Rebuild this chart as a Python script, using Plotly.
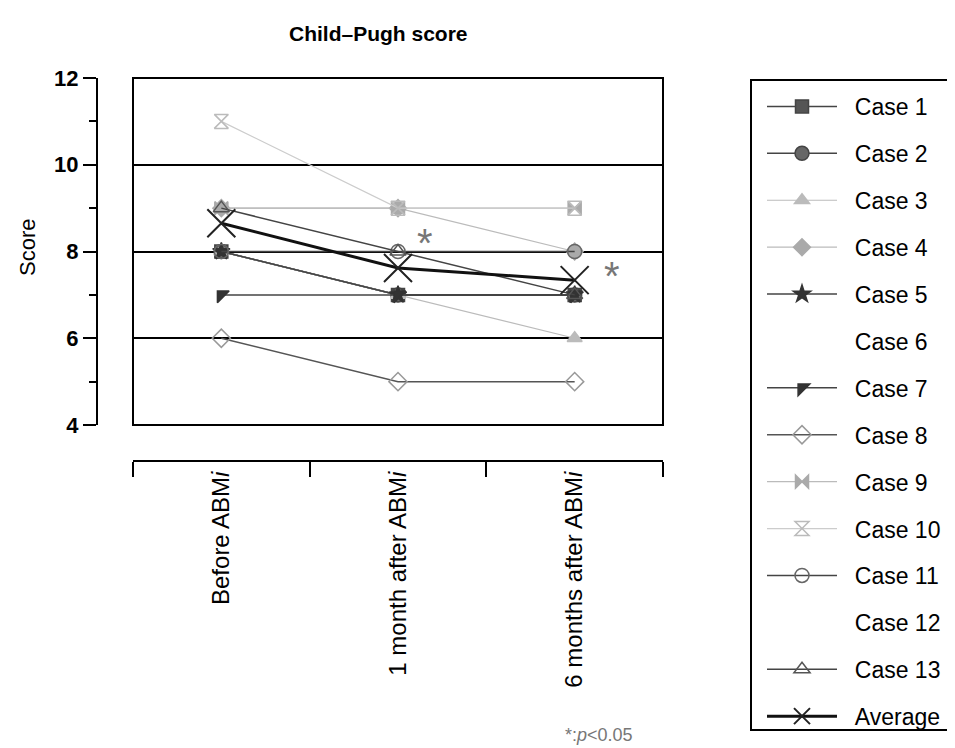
import plotly.graph_objects as go

# ---- data ----
categories = ["Before ABM<i>i</i>", "1 month after ABM<i>i</i>", "6 months after ABM<i>i</i>"]
case_names = ["Case 1", "Case 2", "Case 3", "Case 4", "Case 5", "Case 6", "Case 7",
              "Case 8", "Case 9", "Case 10", "Case 11", "Case 12", "Case 13"]
case1 = [8, 7, 7]
case2 = [8, 7, 7]
case3 = [8, 7, 6]
case4 = [9, 9, 8]
case5 = [8, 7, 7]
case6 = [8, 7, 7]
case7 = [7, 7, 7]
case8 = [6, 5, 5]
case9 = [9, 9, 9]
case10 = [11, 9, 9]
case11 = [8, 8, 8]
case12 = [8, 8, 7]
case13 = [9, 8, 7]
average = [8.65, 7.62, 7.34]
y_ticks = [4, 6, 8, 10, 12]
sig_marks_x = [1.15, 2.21]
sig_marks_y = [8.45, 7.7]

case_values = [case1, case2, case3, case4, case5, case6, case7,
               case8, case9, case10, case11, case12, case13]

# ---- styles ----
styles = [
    dict(symbol="square", mcolor="#555555", mline="#444444", lcolor="#444444", lw=1.5, size=13),
    dict(symbol="circle", mcolor="#666666", mline="#444444", lcolor="#444444", lw=1.5, size=14),
    dict(symbol="triangle-up", mcolor="#bbbbbb", mline="#bbbbbb", lcolor="#bbbbbb", lw=1.2, size=13),
    dict(symbol="diamond", mcolor="#aaaaaa", mline="#aaaaaa", lcolor="#bbbbbb", lw=1.2, size=13),
    dict(symbol="star", mcolor="#333333", mline="#333333", lcolor="#444444", lw=1.5, size=13),
    dict(symbol="circle", mcolor="rgba(0,0,0,0)", mline="rgba(0,0,0,0)", lcolor="rgba(0,0,0,0)", lw=1, size=10),
    dict(symbol="triangle-nw", mcolor="#333333", mline="#333333", lcolor="#444444", lw=1.5, size=13),
    dict(symbol="diamond-open", mcolor="#999999", mline="#999999", lcolor="#555555", lw=1.5, size=14),
    dict(symbol="bowtie", mcolor="#aaaaaa", mline="#aaaaaa", lcolor="#bbbbbb", lw=1.2, size=13),
    dict(symbol="hourglass-open", mcolor="#bbbbbb", mline="#bbbbbb", lcolor="#cccccc", lw=1.2, size=14),
    dict(symbol="circle-open", mcolor="#666666", mline="#666666", lcolor="#444444", lw=1.5, size=14),
    dict(symbol="circle", mcolor="rgba(0,0,0,0)", mline="rgba(0,0,0,0)", lcolor="rgba(0,0,0,0)", lw=1, size=10),
    dict(symbol="triangle-up-open", mcolor="#555555", mline="#555555", lcolor="#444444", lw=1.5, size=14),
]

W, H = 955, 748
def px(x):
    return x / W
def py(y):
    return 1 - y / H

PAD = "\u00a0\u00a0"
fig = go.Figure()
for i, (name, vals) in enumerate(zip(case_names, case_values)):
    s = styles[i]
    fig.add_trace(go.Scatter(
        x=categories, y=vals, name=PAD + name, mode="lines+markers",
        legendgroup=name,
        line=dict(color=s["lcolor"], width=s["lw"]),
        marker=dict(symbol=s["symbol"], size=s["size"], color=s["mcolor"],
                    line=dict(color=s["mline"], width=1.5)),
    ))
fig.add_trace(go.Scatter(
    x=categories, y=average, name=PAD + "Average", mode="lines+markers",
    legendgroup="Average",
    line=dict(color="#111111", width=3),
    marker=dict(symbol="x-thin-open", size=28, color="#222222",
                line=dict(color="#222222", width=2)),
))

FONT = "Liberation Sans, Arial, sans-serif"

annotations = [
    dict(text="<b>Child\u2013Pugh score</b>", x=px(279), y=py(25), xref="paper", yref="paper",
         xanchor="left", yanchor="middle",
         showarrow=False, font=dict(size=21, color="black", family=FONT)),
    dict(text="Score", x=px(20), y=py(240), xref="paper", yref="paper", textangle=-90,
         xanchor="center", yanchor="middle",
         showarrow=False, font=dict(size=22, color="black", family=FONT)),
    dict(text="*:<i>p</i>&lt;0.05", x=px(555), y=py(727), xref="paper", yref="paper",
         xanchor="left", yanchor="middle",
         showarrow=False, font=dict(size=18, color="#777777", family=FONT)),
]
for sx, sy in zip(sig_marks_x, sig_marks_y):
    annotations.append(dict(text="*", x=sx, y=sy, xref="x", yref="y", showarrow=False,
                            xanchor="center", yanchor="middle",
                            font=dict(size=40, color="#777777", family=FONT), yshift=-11))

fig.update_layout(
    width=W, height=H,
    margin=dict(l=0, r=0, t=0, b=0),
    paper_bgcolor="white", plot_bgcolor="white",
    font=dict(family=FONT, color="black", size=22),
    showlegend=True,
    legend=dict(x=px(754), y=py(77), xanchor="left", yanchor="top",
                borderwidth=0, bgcolor="rgba(0,0,0,0)",
                font=dict(size=23, color="black", family=FONT),
                tracegroupgap=14, itemwidth=70, traceorder="grouped"),
    xaxis=dict(
        domain=[px(125), px(655)], anchor="free", position=py(453),
        type="category", range=[-0.5, 2.5], tickson="boundaries",
        showline=True, linecolor="black", linewidth=2,
        ticks="outside", ticklen=15, tickwidth=2, tickcolor="black",
        tickangle=-90, tickfont=dict(size=24, color="black", family=FONT),
        showgrid=False, zeroline=False, automargin=False,
    ),
    yaxis=dict(
        domain=[py(417), py(70)], anchor="free", position=px(89),
        range=[4, 12], tickvals=y_ticks, ticktext=["<b>%d</b>" % v for v in y_ticks],
        showline=True, linecolor="black", linewidth=2,
        ticks="outside", ticklen=13, tickwidth=2, tickcolor="black",
        tickfont=dict(size=22, color="black", family=FONT),
        minor=dict(dtick=1, tick0=4, ticks="outside", ticklen=7, tickwidth=2,
                   tickcolor="black", showgrid=False),
        showgrid=True, gridcolor="black", gridwidth=2, zeroline=False, automargin=False,
    ),
    shapes=[
        dict(type="rect", xref="paper", yref="paper",
             x0=px(125), x1=px(655), y0=py(417), y1=py(70),
             line=dict(color="black", width=2), fillcolor="rgba(0,0,0,0)"),
        dict(type="rect", xref="paper", yref="paper",
             x0=px(743), x1=px(952), y0=py(722), y1=py(72),
             line=dict(color="black", width=2), fillcolor="rgba(0,0,0,0)"),
    ],
    annotations=annotations,
)

fig.write_html("out.html")
